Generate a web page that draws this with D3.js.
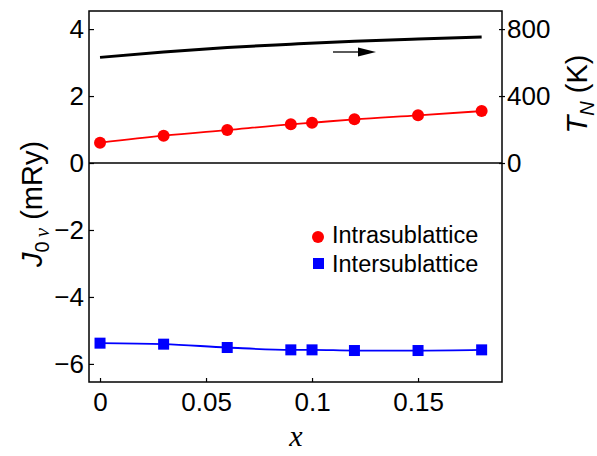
<!DOCTYPE html>
<html>
<head>
<meta charset="utf-8">
<script src="https://cdn.jsdelivr.net/npm/d3@7"></script>
<style>
body { margin: 0; background: #fff; }
text { fill: #000; }
</style>
</head>
<body>
<script>
// values
var xs = [0, 0.03, 0.06, 0.09, 0.1, 0.12, 0.15, 0.18];
var intra = [0.606, 0.815, 0.985, 1.155, 1.203, 1.304, 1.424, 1.552];
var inter = [-5.38, -5.41, -5.51, -5.58, -5.58, -5.60, -5.60, -5.58];
var tn = [631, 663, 690, 710, 728, 741, 752];
var tnX = [0, 0.03, 0.06, 0.09, 0.12, 0.15, 0.18];
var leftTicks = [-6, -4, -2, 0, 2, 4];
var rightTicks = [0, 400, 800];
var xTicks = [0, 0.05, 0.1, 0.15];

var W = 597, H = 456;
var L = 89, R = 502, T = 11, B = 382;
var sans = "Liberation Sans, Arial, sans-serif";
var serif = "Liberation Serif, Times New Roman, serif";

var svg = d3.select("body").append("svg")
	.attr("width", W)
	.attr("height", H)
	.style("font-family", sans);

var x = d3.scaleLinear().domain([-0.0052, 0.1896]).range([L, R]);
var y = d3.scaleLinear().domain([-6.54, 4.54]).range([B, T]);
var y2 = d3.scaleLinear().domain([-6.54 * 200, 4.54 * 200]).range([B, T]);

var fmt = function(d) { return d < 0 ? "\u2212" + Math.abs(d) : String(d); };
var tickFont = 26;

// left axis
svg.append("g")
	.attr("transform", "translate(" + L + ",0)")
	.call(d3.axisLeft(y).tickValues(leftTicks).tickSize(-5).tickPadding(5).tickFormat(fmt))
	.call(function(g) {
		g.select(".domain").remove();
		g.selectAll("line").attr("stroke", "#000").attr("stroke-width", 1.2);
		g.selectAll("text").attr("font-size", tickFont).attr("font-family", sans);
	});

// right axis
svg.append("g")
	.attr("transform", "translate(" + R + ",0)")
	.call(d3.axisRight(y2).tickValues(rightTicks).tickSizeInner(3).tickSizeOuter(0).tickPadding(2))
	.call(function(g) {
		g.select(".domain").remove();
		g.selectAll("line").attr("x1", -3).attr("stroke", "#000").attr("stroke-width", 1.2);
		g.selectAll("text").attr("font-size", tickFont).attr("font-family", sans);
	});

// bottom axis
svg.append("g")
	.attr("transform", "translate(0," + B + ")")
	.call(d3.axisBottom(x).tickValues(xTicks).tickSize(-4).tickPadding(11).tickFormat(function(d) { return String(d); }))
	.call(function(g) {
		g.select(".domain").remove();
		g.selectAll("line").attr("stroke", "#000").attr("stroke-width", 1.2);
		g.selectAll("text").attr("font-size", tickFont).attr("font-family", sans);
	});

// frame
svg.append("rect")
	.attr("x", L).attr("y", T)
	.attr("width", R - L).attr("height", B - T)
	.attr("fill", "none").attr("stroke", "#000").attr("stroke-width", 1.5);

// zero line
svg.append("line")
	.attr("x1", L).attr("x2", R)
	.attr("y1", y(0)).attr("y2", y(0))
	.attr("stroke", "#000").attr("stroke-width", 1.5);

var line = d3.line().curve(d3.curveMonotoneX);

// T_N curve
svg.append("path")
	.attr("d", line.x(function(d, i) { return x(tnX[i]); }).y(function(d) { return y2(d); })(tn))
	.attr("fill", "none").attr("stroke", "#000").attr("stroke-width", 3);

// arrow
svg.append("line")
	.attr("x1", 333).attr("x2", 362).attr("y1", 52).attr("y2", 52)
	.attr("stroke", "#000").attr("stroke-width", 1.3);
svg.append("path")
	.attr("d", "M358,47.5L376,52L358,56.5Z")
	.attr("fill", "#000");

// intrasublattice
svg.append("path")
	.attr("d", line.x(function(d, i) { return x(xs[i]); }).y(function(d) { return y(d); })(intra))
	.attr("fill", "none").attr("stroke", "#ff0000").attr("stroke-width", 1.8);
svg.selectAll(".intra").data(intra).enter().append("circle")
	.attr("class", "intra")
	.attr("cx", function(d, i) { return x(xs[i]); })
	.attr("cy", function(d) { return y(d); })
	.attr("r", 6)
	.attr("fill", "#ff0000");

// intersublattice
svg.append("path")
	.attr("d", line.x(function(d, i) { return x(xs[i]); }).y(function(d) { return y(d); })(inter))
	.attr("fill", "none").attr("stroke", "#0000ff").attr("stroke-width", 1.8);
svg.selectAll(".inter").data(inter).enter().append("rect")
	.attr("class", "inter")
	.attr("x", function(d, i) { return x(xs[i]) - 5.5; })
	.attr("y", function(d) { return y(d) - 5.5; })
	.attr("width", 11).attr("height", 11)
	.attr("fill", "#0000ff");

// legend
svg.append("circle").attr("cx", 318).attr("cy", 237).attr("r", 6).attr("fill", "#ff0000");
svg.append("text").attr("x", 332).attr("y", 243).attr("font-size", 23.5).text("Intrasublattice");
svg.append("rect").attr("x", 313).attr("y", 258).attr("width", 11).attr("height", 11).attr("fill", "#0000ff");
svg.append("text").attr("x", 332).attr("y", 272).attr("font-size", 23.5).text("Intersublattice");

// axis titles
var yl = svg.append("text")
	.attr("transform", "translate(42,204) rotate(-90)")
	.attr("text-anchor", "middle")
	.attr("font-size", 29);
yl.append("tspan").attr("font-style", "italic").text("J");
yl.append("tspan").attr("font-size", 20).attr("dy", 7).text("0");
yl.append("tspan").attr("font-size", 21).style("font-family", serif).attr("font-style", "italic").text("\u2009\u03bd");
yl.append("tspan").attr("dy", -7).text(" (mRy)");

var yr = svg.append("text")
	.attr("transform", "translate(587,94) rotate(-90)")
	.attr("text-anchor", "middle")
	.attr("font-size", 29);
yr.append("tspan").attr("font-style", "italic").text("T");
yr.append("tspan").attr("font-size", 20).attr("font-style", "italic").attr("dy", 7).text("N");
yr.append("tspan").attr("dy", -7).text(" (K)");

svg.append("text")
	.attr("x", 296).attr("y", 446)
	.attr("text-anchor", "middle")
	.style("font-family", serif)
	.attr("font-style", "italic")
	.attr("font-size", 30)
	.text("x");
</script>
</body>
</html>
